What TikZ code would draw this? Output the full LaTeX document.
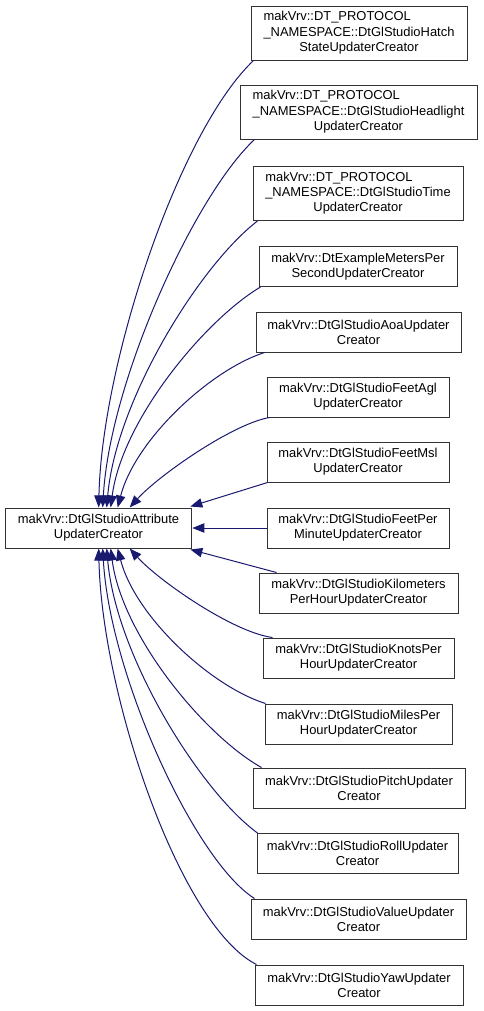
\documentclass[tikz,border=0pt]{standalone}
\usepackage{fontspec}
\setmainfont{Liberation Sans}
\usetikzlibrary{calc,arrows.meta}

\definecolor{midnightblue}{HTML}{191970}

\tikzset{
  cls/.style={draw=black!80, line width=0.75pt, fill=white, align=center,
    inner sep=0pt, minimum height=30pt,
    font=\fontsize{9.7}{11.3}\selectfont},
  tall/.style={minimum height=40.5pt},
  edge/.style={draw=midnightblue, line width=0.75pt,
    -{Triangle[length=9pt,width=7pt]}}
}

% first line left, last line centred (three line boxes)
\newcommand{\threelines}[3]{\begin{tabular}{@{}l@{}}#1\\#2\\\multicolumn{1}{@{}c@{}}{#3}\end{tabular}}

\begin{document}
\begin{tikzpicture}[x=0.75pt,y=-0.75pt]
  \useasboundingbox (0,0) rectangle (483,1011);

  % base class
  \node[cls, minimum width=140pt] (base) at (98.5,528)
    {makVrv::DtGlStudioAttribute\\UpdaterCreator};

  % derived classes
  \node[cls, tall, minimum width=162pt] (hatch) at (359,33)
    {\threelines{makVrv::DT\_PROTOCOL}{\_NAMESPACE::DtGlStudioHatch}{StateUpdaterCreator}};
  \node[cls, tall, minimum width=177.75pt] (headlight) at (358.5,112)
    {\threelines{makVrv::DT\_PROTOCOL}{\_NAMESPACE::DtGlStudioHeadlight}{UpdaterCreator}};
  \node[cls, tall, minimum width=157.5pt] (time) at (358,193.5)
    {\threelines{makVrv::DT\_PROTOCOL}{\_NAMESPACE::DtGlStudioTime}{UpdaterCreator}};
  \node[cls, minimum width=148.5pt] (meters) at (358,266.5)
    {makVrv::DtExampleMetersPer\\SecondUpdaterCreator};
  \node[cls, minimum width=153.75pt] (aoa) at (358.5,332)
    {makVrv::DtGlStudioAoaUpdater\\Creator};
  \node[cls, minimum width=136.5pt] (feetagl) at (358,397)
    {makVrv::DtGlStudioFeetAgl\\UpdaterCreator};
  \node[cls, minimum width=136.5pt] (feetmsl) at (358,462)
    {makVrv::DtGlStudioFeetMsl\\UpdaterCreator};
  \node[cls, minimum width=136.5pt] (feetmin) at (358,528)
    {makVrv::DtGlStudioFeetPer\\MinuteUpdaterCreator};
  \node[cls, minimum width=149.25pt] (kmh) at (358.5,593)
    {makVrv::DtGlStudioKilometers\\PerHourUpdaterCreator};
  \node[cls, minimum width=143.25pt] (knots) at (358.5,658)
    {makVrv::DtGlStudioKnotsPer\\HourUpdaterCreator};
  \node[cls, minimum width=140.25pt] (miles) at (358.5,724)
    {makVrv::DtGlStudioMilesPer\\HourUpdaterCreator};
  \node[cls, minimum width=159pt] (pitch) at (359,788)
    {makVrv::DtGlStudioPitchUpdater\\Creator};
  \node[cls, minimum width=150.75pt] (roll) at (357.5,853.5)
    {makVrv::DtGlStudioRollUpdater\\Creator};
  \node[cls, minimum width=161.25pt] (value) at (358.5,919)
    {makVrv::DtGlStudioValueUpdater\\Creator};
  \node[cls, minimum width=156pt] (yaw) at (359,985)
    {makVrv::DtGlStudioYawUpdater\\Creator};

  % inheritance edges, upper half
  \draw[edge] ($(hatch.south west)+(3,0)$) .. controls (180,130) and (102,360) .. ($(base.north west)+(94,0)$);
  \draw[edge] ($(headlight.south west)+(15,0)$) .. controls (195,195) and (110,380) .. ($(base.north west)+(98,0)$);
  \draw[edge] ($(time.south west)+(5,0)$) .. controls (200,265) and (116,400) .. ($(base.north west)+(102,0)$);
  \draw[edge] ($(meters.south west)+(2,0)$) .. controls (205,320) and (122,420) .. ($(base.north west)+(106,0)$);
  \draw[edge] ($(aoa.south west)+(9,0)$) .. controls (210,370) and (135,440) .. ($(base.north west)+(113,0)$);
  \draw[edge] ($(feetagl.south west)+(3,0)$) .. controls (232,424) and (158,476) .. ($(base.north west)+(125,0)$);
  \draw[edge] ($(feetmsl.south west)+(1,0)$) -- ($(base.north east)+(-2,-1)$);
  \draw[edge] (feetmin) -- (base);
  \draw[edge] ($(kmh.north west)+(18,0)$) -- ($(base.south east)+(-2,1)$);

  % inheritance edges, lower half
  \draw[edge] ($(knots.north west)+(10,0)$) .. controls (232,632) and (158,580) .. ($(base.south west)+(125,0)$);
  \draw[edge] ($(miles.north west)+(1,0)$) .. controls (210,686) and (135,616) .. ($(base.south west)+(113,0)$);
  \draw[edge] ($(pitch.north west)+(9,0)$) .. controls (205,736) and (122,636) .. ($(base.south west)+(106,0)$);
  \draw[edge] ($(roll.north west)+(1,0)$) .. controls (200,791) and (116,656) .. ($(base.south west)+(102,0)$);
  \draw[edge] ($(value.north west)+(4,0)$) .. controls (195,861) and (110,676) .. ($(base.south west)+(98,0)$);
  \draw[edge] ($(yaw.north west)+(2,0)$) .. controls (180,926) and (102,696) .. ($(base.south west)+(94,0)$);
\end{tikzpicture}
\end{document}
